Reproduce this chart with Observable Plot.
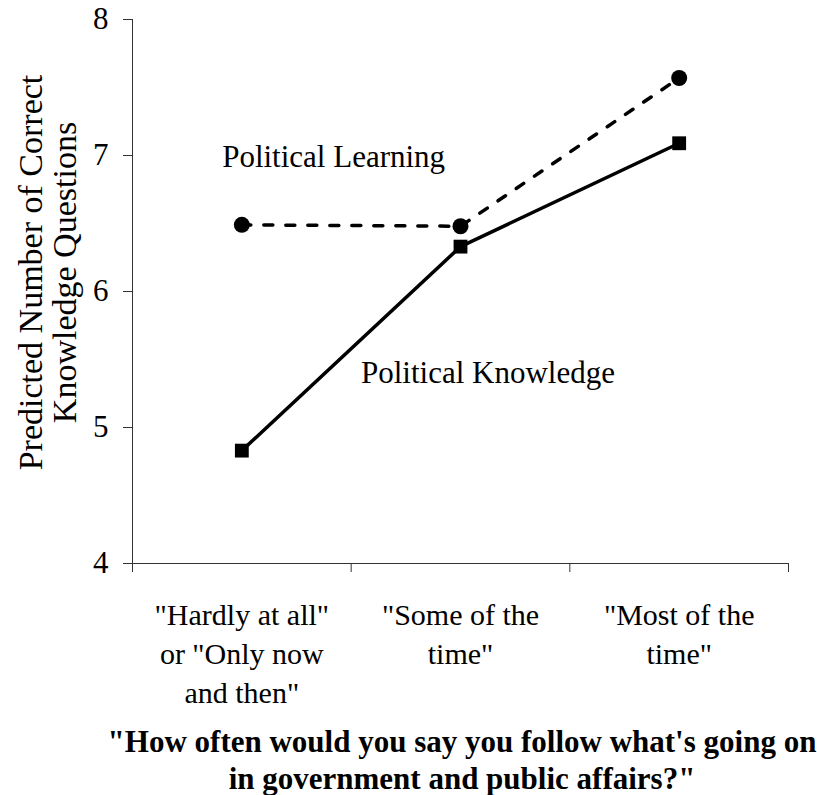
<!DOCTYPE html>
<html>
<head>
<meta charset="utf-8">
<script src="https://cdn.jsdelivr.net/npm/d3@7"></script>
<script src="https://cdn.jsdelivr.net/npm/@observablehq/plot@0.6"></script>
<style>
  html, body { margin: 0; padding: 0; background: #fff; }
  #chart svg { display: block; }
  #xtitle {
    width: 817px; box-sizing: border-box; padding-left: 107px; margin-top: 8px;
    text-align: center; white-space: nowrap;
    font-family: "Liberation Serif", "Times New Roman", serif; font-weight: bold;
    font-size: 31px; line-height: 37px; color: #000;
  }
</style>
</head>
<body>
<div id="chart"></div>
<div id="xtitle">"How often would you say you follow what's going on<br>in government and public affairs?"</div>
<script>
const categories = [
  '"Hardly at all"\nor "Only now\nand then"',
  '"Some of the\ntime"',
  '"Most of the\ntime"'
];
const learning = [6.49, 6.48, 7.57];
const knowledge = [4.83, 6.33, 7.09];
const yTicks = [4, 5, 6, 7, 8];
const yTitle = "Predicted Number of Correct\nKnowledge Questions";
const annotations = [
  {label: "Political Learning", x: 0.41, y: 6.985},
  {label: "Political Knowledge", x: 1.045, y: 5.40}
];

const table = categories.map((c, i) => ({cat: c, pos: i + 0.5, learning: learning[i], knowledge: knowledge[i]}));
const boundaries = d3.range(categories.length + 1);

const chart = Plot.plot({
  width: 817,
  height: 715,
  marginLeft: 132,
  marginRight: 29,
  marginTop: 19,
  marginBottom: 152,
  style: {fontFamily: "'Liberation Serif', 'Times New Roman', serif", fontSize: "30px", color: "#000", background: "#fff"},
  x: {domain: [0, categories.length], axis: null},
  y: {domain: [4, 8], axis: null},
  marks: [
    Plot.ruleX([0], {stroke: "#333", strokeWidth: 1}),
    Plot.ruleY([4], {stroke: "#333", strokeWidth: 1}),
    Plot.axisY({ticks: yTicks, tickSize: 9, tickPadding: 15, tickFormat: "d", label: null, stroke: "#333", fontSize: 31}),
    Plot.axisX({ticks: boundaries, tickSize: 9, tickFormat: () => "", label: null, stroke: "#333"}),
    Plot.axisX({ticks: table.map(d => d.pos), tickSize: 0, tickPadding: 34, label: null,
      tickFormat: v => categories[Math.floor(v)], lineHeight: 1.3, fontSize: 30}),
    Plot.text([yTitle], {frameAnchor: "left", rotate: -90, dx: -84, dy: -19, lineHeight: 1.0, fontSize: 34, textAnchor: "middle", lineAnchor: "middle"}),
    Plot.line(table, {x: "pos", y: "learning", stroke: "#000", strokeWidth: 3.5, strokeDasharray: "9,13"}),
    Plot.line(table, {x: "pos", y: "knowledge", stroke: "#000", strokeWidth: 3.5}),
    Plot.dot(table, {x: "pos", y: "learning", symbol: "circle", r: 8, fill: "#000"}),
    Plot.dot(table, {x: "pos", y: "knowledge", symbol: "square", r: 7.8, fill: "#000"}),
    Plot.text(annotations, {x: "x", y: "y", text: "label", textAnchor: "start", fontSize: 31, fill: "#000"})
  ]
});
document.getElementById("chart").appendChild(chart);
</script>
</body>
</html>
